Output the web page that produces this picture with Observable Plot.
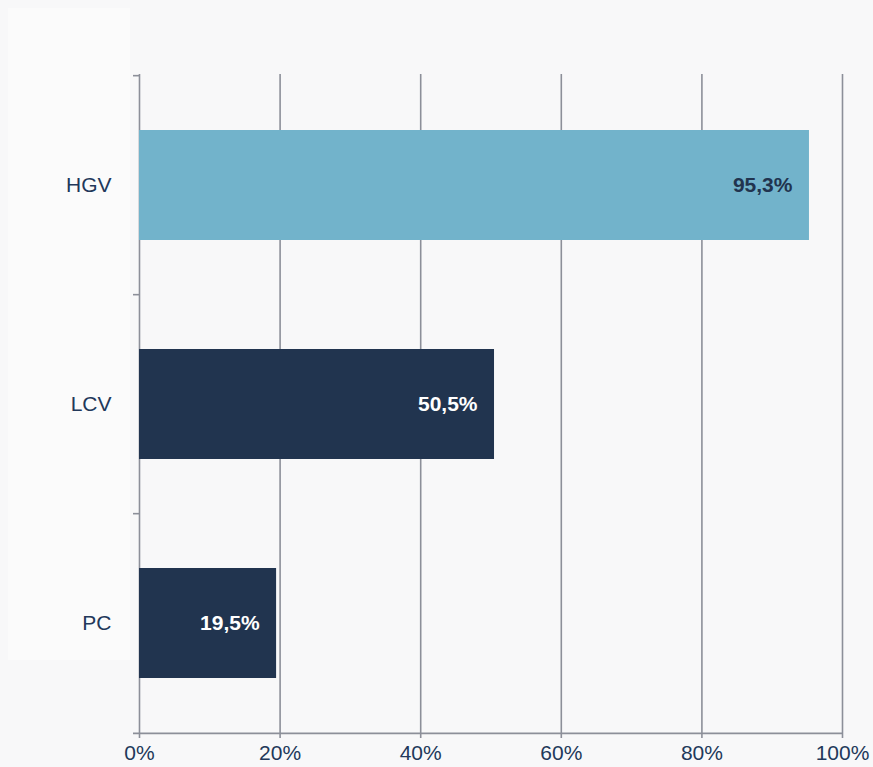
<!DOCTYPE html>
<html>
<head>
<meta charset="utf-8">
<script src="https://cdn.jsdelivr.net/npm/d3@7"></script>
<script src="https://cdn.jsdelivr.net/npm/@observablehq/plot@0.6"></script>
<style>
  html, body { margin: 0; padding: 0; background: #f8f8f9; }
  #wrap { position: relative; width: 873px; height: 767px; }
  #panel { position: absolute; left: 8px; top: 8px; width: 122px; height: 652px; background: #fbfbfb; }
  #chart { position: absolute; left: 0; top: 0; }
  #chart svg { background: transparent; }
</style>
</head>
<body>
<div id="wrap"><div id="panel"></div><div id="chart"></div></div>
<script>
const categories = ["HGV", "LCV", "PC"];
const values = [95.3, 50.5, 19.5];
const barColors = ["#72b3cb", "#21344f", "#21344f"];
const labelColors = ["#21344f", "#ffffff", "#ffffff"];
const xTicks = [0, 20, 40, 60, 80, 100];

const data = categories.map((c, i) => ({cat: c, value: values[i], color: barColors[i], lc: labelColors[i]}));

const W = 873, H = 767;
const mTop = 74, mBottom = 34, mLeft = 139, mRight = 31;
const step = (H - mTop - mBottom) / 3;
const gray = "#8c8f99";
const textColor = "#22385a";

const chart = Plot.plot({
  width: W,
  height: H,
  marginTop: mTop,
  marginBottom: mBottom,
  marginLeft: mLeft,
  marginRight: mRight,
  style: {background: "transparent", fontFamily: "'Liberation Sans', Arial, Helvetica, sans-serif", fontSize: "21px", color: textColor},
  x: {domain: [0, 100]},
  y: {domain: categories, paddingInner: 0.5, paddingOuter: 0.25},
  marks: [
    Plot.ruleX(xTicks, {x: d => d, stroke: gray, strokeWidth: 1.6, strokeOpacity: 1}),
    Plot.ruleY(categories, {y: d => d, x1: 0, x2: 0, insetLeft: -6, dy: -step / 2, stroke: gray, strokeWidth: 1.6}),
    Plot.ruleY([categories[categories.length - 1]], {y: d => d, x1: 0, x2: 100, insetLeft: -6, dy: step / 2, stroke: gray, strokeWidth: 1.6}),
    Plot.barX(data, {x: "value", y: "cat", fill: "color"}),
    Plot.text(data, {
      x: "value", y: "cat",
      text: d => d.value.toFixed(1).replace(".", ",") + "%",
      textAnchor: "end", dx: -17, fill: "lc",
      fontWeight: "bold", fontSize: 21
    }),
    Plot.axisX(xTicks, {
      tickSize: 5, tickPadding: 7, stroke: gray, strokeWidth: 1.6,
      tickFormat: d => d + "%", fill: textColor, fontSize: 21, label: null
    }),
    Plot.axisY({tickSize: 0, tickPadding: 28, fill: textColor, fontSize: 21, label: null})
  ]
});
document.getElementById("chart").appendChild(chart);
</script>
</body>
</html>
